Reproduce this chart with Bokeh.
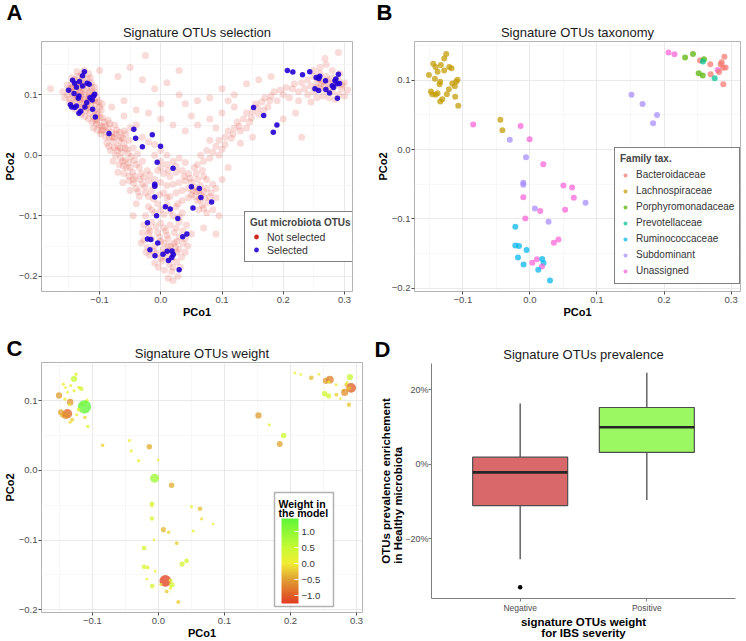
import numpy as np
from bokeh.plotting import figure
from bokeh.layouts import column, row
from bokeh.models import (FixedTicker, Range1d, Legend, LegendItem, ColumnDataSource, Label,
                          LinearColorMapper, ColorBar, FactorRange, Title, BoxAnnotation)
from bokeh.transform import dodge
from bokeh.embed import file_html
from bokeh.resources import INLINE

FONT = "Liberation Sans"

# ---------------- data ----------------
# background (not selected) gut microbiota OTUs
bg_topleft = [(-0.150,0.110),(-0.145,0.118),(-0.140,0.125),(-0.135,0.130),(-0.128,0.128),(-0.120,0.126),(-0.113,0.120),(-0.108,0.113),
    (-0.152,0.100),(-0.146,0.104),(-0.140,0.108),(-0.134,0.112),(-0.127,0.116),(-0.121,0.112),(-0.115,0.106),(-0.110,0.100),(-0.104,0.095),
    (-0.148,0.092),(-0.142,0.096),(-0.136,0.100),(-0.130,0.104),(-0.124,0.100),(-0.118,0.096),(-0.112,0.090),(-0.106,0.085),(-0.100,0.080),
    (-0.144,0.084),(-0.138,0.088),(-0.132,0.092),(-0.126,0.088),(-0.120,0.084),(-0.114,0.080),(-0.108,0.075),(-0.102,0.070),
    (-0.140,0.076),(-0.134,0.080),(-0.128,0.078),(-0.122,0.074),(-0.116,0.070),(-0.110,0.064),(-0.104,0.060),
    (-0.130,0.068),(-0.124,0.064),(-0.118,0.060),(-0.112,0.055),(-0.160,0.105),(-0.157,0.095),(-0.137,0.138),(-0.125,0.140),(-0.118,0.135),
    (-0.131,0.097),(-0.125,0.093),(-0.119,0.089),(-0.137,0.094),(-0.129,0.085),(-0.123,0.081),(-0.133,0.106),(-0.117,0.102),
    (-0.143,0.113),(-0.139,0.117),(-0.131,0.121),(-0.123,0.119),(-0.113,0.112),(-0.107,0.104),(-0.101,0.088),(-0.097,0.075),
    (-0.149,0.087),(-0.153,0.116),(-0.145,0.128),(-0.129,0.134),(-0.115,0.128),(-0.105,0.068),(-0.099,0.063),(-0.107,0.058),
    (-0.146,0.110),(-0.134,0.120),(-0.126,0.108),(-0.114,0.094),(-0.140,0.100),(-0.120,0.078),(-0.108,0.090),(-0.096,0.085)]
bg_leftarm = [(-0.110,0.045),(-0.100,0.050),(-0.092,0.055),(-0.085,0.045),(-0.098,0.035),(-0.090,0.030),(-0.080,0.038),(-0.072,0.042),(-0.065,0.030),
    (-0.088,0.020),(-0.078,0.022),(-0.070,0.015),(-0.060,0.020),(-0.052,0.025),(-0.082,0.008),(-0.074,0.000),(-0.064,0.005),(-0.055,0.010),(-0.045,0.012),
    (-0.078,-0.010),(-0.068,-0.015),(-0.058,-0.008),(-0.048,-0.002),(-0.038,0.002),(-0.070,-0.028),(-0.060,-0.030),(-0.050,-0.020),(-0.040,-0.015),(-0.030,-0.010),
    (-0.062,-0.045),(-0.052,-0.042),(-0.042,-0.035),(-0.032,-0.030),(-0.022,-0.025),(-0.050,-0.058),(-0.040,-0.055),(-0.030,-0.048),(-0.020,-0.042),
    (-0.035,-0.068),(-0.025,-0.062),(-0.015,-0.058),(-0.060,0.040),(-0.050,0.045),(-0.040,0.050),(-0.030,0.030),(-0.020,0.022),(-0.010,0.018),(0.000,0.008),(0.010,0.000),
    (-0.095,0.062),(-0.086,0.058),(-0.075,0.050),(-0.094,0.042),(-0.084,0.030),(-0.068,0.025),(-0.058,0.012),(-0.066,-0.004),(-0.056,-0.020),(-0.046,-0.028),
    (-0.104,0.042),(-0.096,0.047),(-0.088,0.038),(-0.076,0.030),(-0.071,0.007),(-0.061,-0.018),(-0.052,-0.034),(-0.044,-0.046),(-0.034,-0.040),(-0.026,-0.052),
    (-0.105,0.052),(-0.097,0.040),(-0.091,0.048),(-0.083,0.052),(-0.079,0.030),(-0.073,0.035),(-0.067,0.038),(-0.062,0.028),(-0.057,0.035),(-0.085,0.015),
    (-0.076,0.012),(-0.066,0.012),(-0.053,0.003),(-0.062,-0.010),(-0.052,-0.012),(-0.043,-0.008),(-0.035,-0.020),(-0.045,-0.040),(-0.037,-0.060),(-0.028,-0.036),
    (-0.018,-0.032),(-0.010,-0.050),(-0.020,-0.068),(-0.012,-0.072)]
bg_middle = [(-0.010,0.000),(0.000,-0.010),(0.010,-0.015),(0.020,-0.010),(0.030,-0.005),(0.040,-0.012),(-0.005,-0.025),(0.005,-0.030),(0.015,-0.035),(0.025,-0.028),(0.035,-0.025),(0.045,-0.030),(0.055,-0.020),
    (-0.010,-0.040),(0.000,-0.045),(0.010,-0.050),(0.020,-0.048),(0.030,-0.045),(0.040,-0.042),(0.050,-0.045),(0.060,-0.040),(0.070,-0.035),
    (0.005,-0.062),(0.015,-0.068),(0.025,-0.062),(0.035,-0.058),(0.045,-0.055),(0.055,-0.052),(0.065,-0.050),(0.075,-0.055),(0.085,-0.048),
    (0.050,-0.065),(0.058,-0.060),(0.066,-0.065),(0.072,-0.070),(0.060,-0.075),(0.068,-0.082),(0.078,-0.078),(0.085,-0.090),(0.075,-0.095),(0.090,-0.070),(0.095,-0.100),
    (0.062,-0.058),(0.070,-0.060),(0.056,-0.068),(0.064,-0.072),(0.052,-0.058),
    (0.000,-0.020),(0.012,-0.025),(0.025,-0.018),(0.038,-0.035),(0.048,-0.038),(0.058,-0.030),(0.068,-0.025),(0.075,-0.040),(0.082,-0.062),(0.090,-0.055),
    (0.070,-0.088),(0.062,-0.090),(0.080,-0.068),(0.045,-0.070),(0.035,-0.075),(0.028,-0.080),(0.010,-0.070),(-0.002,-0.065)]
bg_bottom = [(-0.020,-0.085),(-0.005,-0.080),(0.010,-0.082),(0.025,-0.085),(-0.025,-0.100),(-0.010,-0.095),(0.005,-0.098),(0.020,-0.100),(0.035,-0.095),
    (-0.028,-0.115),(-0.015,-0.110),(0.000,-0.112),(0.015,-0.115),(0.030,-0.110),(0.042,-0.115),(-0.030,-0.128),(-0.018,-0.125),(-0.005,-0.128),(0.008,-0.125),(0.022,-0.128),(0.036,-0.125),
    (-0.028,-0.140),(-0.015,-0.138),(0.000,-0.142),(0.012,-0.138),(0.026,-0.142),(0.040,-0.138),(-0.022,-0.152),(-0.010,-0.150),(0.004,-0.155),(0.016,-0.150),(0.030,-0.155),(0.044,-0.150),
    (-0.018,-0.165),(-0.006,-0.162),(0.008,-0.168),(0.020,-0.163),(0.034,-0.168),(-0.010,-0.178),(0.002,-0.175),(0.014,-0.180),(0.026,-0.176),(0.006,-0.190),(0.018,-0.192),(0.028,-0.200),(0.012,-0.203),(-0.032,-0.145),(0.050,-0.130),
    (0.005,-0.145),(0.015,-0.158),(0.022,-0.145),(0.010,-0.132),(-0.002,-0.135),(0.018,-0.170),(0.008,-0.160),
    (-0.012,-0.158),(0.024,-0.152),(0.012,-0.150),(0.000,-0.170),(0.020,-0.185),(0.030,-0.135),(-0.020,-0.130),(-0.008,-0.118),
    (-0.015,-0.090),(0.000,-0.090),(0.015,-0.092),(0.030,-0.102),(-0.020,-0.120),(0.005,-0.120),(0.025,-0.120),(0.036,-0.145),(-0.024,-0.160),(0.026,-0.160),
    (0.040,-0.160),(-0.004,-0.185),(0.032,-0.185),(0.020,-0.207)]
bg_rightarm = [(0.060,-0.015),(0.070,-0.010),(0.080,-0.005),(0.065,0.000),(0.075,0.008),(0.085,0.005),(0.090,0.015),(0.100,0.010),(0.095,0.025),(0.105,0.030),(0.115,0.028),(0.110,0.040),
    (0.120,0.045),(0.130,0.040),(0.125,0.055),(0.135,0.060),(0.145,0.055),(0.140,0.070),(0.150,0.072),(0.160,0.068),(0.155,0.085),(0.165,0.088),(0.175,0.080),(0.170,0.095),(0.180,0.098),(0.190,0.090),(0.185,0.105),(0.200,0.100),(0.210,0.095),(0.205,0.112),(0.215,0.110),(0.225,0.105),(0.080,0.025),(0.090,0.045),
    (0.095,0.000),(0.105,0.018),(0.118,0.035),(0.128,0.048),(0.140,0.045),(0.148,0.062),(0.158,0.078),(0.168,0.075),(0.178,0.090),(0.195,0.108),(0.218,0.118),(0.225,0.090)]
bg_topright = [(0.230,0.120),(0.240,0.125),(0.250,0.130),(0.260,0.135),(0.270,0.130),(0.280,0.128),(0.290,0.125),(0.300,0.120),
    (0.235,0.110),(0.245,0.115),(0.255,0.120),(0.265,0.122),(0.275,0.118),(0.285,0.115),(0.295,0.110),(0.305,0.108),
    (0.240,0.100),(0.250,0.105),(0.260,0.110),(0.270,0.108),(0.280,0.105),(0.290,0.100),(0.300,0.098),
    (0.255,0.095),(0.265,0.098),(0.275,0.095),(0.285,0.092),(0.260,0.145),(0.270,0.150),(0.250,0.140),(0.280,0.140),(0.292,0.135),(0.245,0.088),(0.268,0.160),
    (0.262,0.118),(0.272,0.124),(0.282,0.120),(0.258,0.126),(0.276,0.112),(0.266,0.114),(0.286,0.124),(0.254,0.112),(0.296,0.116)]
bg_sparse = [(-0.100,0.140),(-0.070,0.130),(-0.050,0.145),(-0.030,0.125),(-0.010,0.110),(0.010,0.120),(0.030,0.100),(0.040,0.085),(0.060,0.090),(0.080,0.095),(0.100,0.110),(0.120,0.100),(0.140,0.118),(0.160,0.125),(0.180,0.130),
    (-0.060,0.090),(-0.040,0.075),(-0.020,0.070),(0.000,0.060),(0.020,0.050),(0.040,0.040),(0.060,0.050),(0.080,0.060),(0.100,0.070),(0.120,0.080),(-0.080,0.080),(-0.060,0.065),(0.000,0.085),(0.050,0.065),(0.110,0.090),
    (0.130,0.020),(0.150,0.030),(0.100,-0.040),(0.110,-0.020),(0.200,0.060),(0.220,0.070),(-0.025,0.165),(0.030,0.140),(-0.180,0.110),(0.290,0.170),(0.230,0.030),(0.070,-0.120),(0.090,-0.130),(-0.045,-0.100),(-0.040,-0.080)]
background_otus = bg_topleft + bg_leftarm + bg_middle + bg_bottom + bg_rightarm + bg_topright + bg_sparse
bg_x = [p[0] for p in background_otus]
bg_y = [p[1] for p in background_otus]

# signature OTUs (selected)
sig_x = [-0.1247,-0.1277,-0.1440,-0.1327,-0.1406,-0.1202,-0.1168,-0.1505,-0.1376,-0.1277,
         -0.1416,-0.1336,-0.1346,-0.1157,-0.1079,-0.1098,-0.1119,-0.1208,-0.1475,-0.1455,
         -0.1376,-0.1406,-0.1238,-0.1113,-0.1306,-0.1336,-0.1068,-0.0440,-0.0410,
         -0.0845,-0.0300,-0.0138,-0.0004,-0.0058,0.0200,-0.0098,-0.0098,0.0500,0.0630,
         0.0655,0.0830,-0.0098,0.0075,0.0155,0.0526,-0.0068,0.0278,-0.0217,0.0358,
         0.0426,-0.0217,-0.0162,-0.0049,-0.0177,0.0105,0.0184,0.0036,0.0204,-0.0094,
         0.0180,0.0125,0.0300,
         0.1515,0.1680,0.1896,0.1837,
         0.2067,0.2156,0.2314,0.2432,0.2536,0.2596,0.2580,0.2690,0.2900,0.2859,
         0.2844,0.2918,0.2880,0.2800,0.2820,0.2695,0.2517,0.2577,0.2755,0.2884]
sig_y = [0.1381,0.1315,0.1238,0.1219,0.1190,0.1190,0.1172,0.1076,0.1123,0.1143,
         0.1023,0.0980,0.0943,0.0952,0.1009,0.0980,0.0914,0.0871,0.0837,0.0800,
         0.0814,0.0790,0.0800,0.0761,0.0727,0.0693,0.0632,0.0430,0.0280,
         0.0360,0.0140,0.0340,0.0150,-0.0113,-0.0213,-0.0480,-0.0510,-0.0520,-0.0550,
         -0.0696,-0.0770,-0.0690,-0.0850,-0.0887,-0.0870,-0.0997,-0.1044,-0.1116,-0.1345,
         -0.1300,-0.1384,-0.1393,-0.1450,-0.1560,-0.1585,-0.1580,-0.1636,-0.1640,-0.1660,
         -0.1690,-0.1737,-0.1890,
         0.0790,0.0656,0.0500,0.0380,
         0.1400,0.1377,0.1330,0.1381,0.1287,0.1305,0.1270,0.1230,0.1340,0.1260,
         0.1230,0.1186,0.1180,0.1150,0.1120,0.1086,0.1100,0.1070,0.1030,0.0943]
sig_family_code = ["L"] * 29 + [
         "U","S","U","U","S","U","S","S","U","U",
         "U","S","U","S","U","U","U","S","R","U",
         "U","R","R","R","R","U","R","U","R","R",
         "U","R","R",
         "S","S","S","S",
         "U","U","P","P","B","P","V","B","B","B",
         "B","B","B","U","B","B","P","P","V","B"]
sig_weight = [0.15,0.5,0.1,0.1,0.05,0.15,0.3,-0.5,0.05,0.1,
              0.1,-0.55,0.1,-0.1,0.05,0.1,1.4,0.2,-0.45,-0.35,
              -0.9,-0.6,0.1,-0.15,-0.2,-0.1,0.15,0.1,0.1,
              -0.15,0.1,-0.4,0.05,0.85,-0.4,0.3,0.1,0.1,-0.3,
              -0.1,0.05,0.25,-0.35,-0.15,0.1,0.05,-0.2,0.3,0.35,
              0.3,0.3,0.2,0.05,0.05,-1.2,0.2,-0.1,0.4,0.3,
              0.1,-0.2,-0.2,
              -0.5,0.1,0.4,-0.45,
              0.05,0.05,-0.3,0.05,-0.5,-0.7,0.1,0.1,0.5,0.1,
              -0.2,-0.95,-0.3,-0.1,-0.6,-0.2,0.4,0.35,0.05,-0.25]

families = ["Bacteroidaceae", "Lachnospiraceae", "Porphyromonadaceae", "Prevotellaceae",
            "Ruminococcaceae", "Subdominant", "Unassigned"]
family_codes = ["B", "L", "P", "V", "R", "S", "U"]
code_to_family = dict(zip(family_codes, families))
sig_family = [code_to_family[c] for c in sig_family_code]

pcoa_ticks_x = [-0.1, 0.0, 0.1, 0.2, 0.3]
pcoa_ticks_y = [-0.2, -0.1, 0.0, 0.1]
weight_ticks = [-1.0, -0.5, 0.0, 0.5, 1.0]

box_cats = ["Negative", "Positive"]
box_q1 = [-11.1, 3.2]
box_med = [-2.2, 9.9]
box_q3 = [1.9, 15.2]
box_lo = [-25.5, -9.6]
box_hi = [16.3, 24.5]
out_cat = ["Negative"]
out_val = [-33.0]
pct_ticks = [-20, 0, 20]

# ---------------- styling helpers ----------------
family_colors = ["#F8766D", "#C49A00", "#53B400", "#00C094", "#00B6EB", "#A58AFF", "#FB61D7"]
fam_color = dict(zip(families, family_colors))


def fmt(v):
    return ("%.1f" % v).replace("-", "\u2212")


def add_titles(p, text, letter, offset=0, letter_offset=-35, letter_standoff=-6):
    p.add_layout(Title(text=text, align="center", offset=offset, text_font=FONT,
                       text_font_size="13px", text_font_style="normal", text_color="#1a1a1a",
                       standoff=3), "above")
    p.add_layout(Title(text=letter, align="left", offset=letter_offset, text_font=FONT,
                       text_font_size="22px", text_font_style="bold", text_color="black",
                       standoff=letter_standoff), "above")


def style_axes(p):
    for ax in (p.xaxis[0], p.yaxis[0]):
        ax.axis_line_color = None
        ax.major_tick_line_color = "#4d4d4d"
        ax.major_tick_out = 3
        ax.major_tick_in = 0
        ax.minor_tick_line_color = None
        ax.major_label_text_font = FONT
        ax.major_label_text_font_size = "9.5px"
        ax.major_label_text_color = "#4d4d4d"
        ax.major_label_text_line_height = 1.0
        ax.major_label_standoff = 0
        ax.axis_label_text_font = FONT
        ax.axis_label_text_font_size = "11px"
        ax.axis_label_text_font_style = "bold"
        ax.axis_label_text_color = "#000000"
        ax.axis_label_text_line_height = 1.0
        ax.axis_label_standoff = 0


def pcoa_figure(title, letter, h, xr, yr, bl, br, bt, bb, offset=0, letter_offset=-35,
                letter_standoff=-6):
    p = figure(width=373, height=h, x_range=Range1d(*xr), y_range=Range1d(*yr), title=None,
               output_backend="svg", toolbar_location=None,
               min_border_left=bl, min_border_right=br, min_border_top=bt, min_border_bottom=bb)
    add_titles(p, title, letter, offset, letter_offset, letter_standoff)
    p.outline_line_color = "#b3b3b3"
    p.outline_line_width = 1
    xt = FixedTicker(ticks=pcoa_ticks_x, minor_ticks=[t - 0.05 for t in pcoa_ticks_x] + [0.35])
    yt = FixedTicker(ticks=pcoa_ticks_y, minor_ticks=[t - 0.05 for t in pcoa_ticks_y] + [0.15])
    p.xaxis.ticker = xt
    p.yaxis.ticker = yt
    p.xgrid.ticker = xt
    p.ygrid.ticker = yt
    p.xaxis.major_label_overrides = {v: fmt(v) for v in pcoa_ticks_x}
    p.yaxis.major_label_overrides = {v: fmt(v) for v in pcoa_ticks_y}
    p.xaxis.axis_label = "PCo1"
    p.yaxis.axis_label = "PCo2"
    for g in (p.xgrid[0], p.ygrid[0]):
        g.grid_line_color = "#e6e6e6"
        g.grid_line_width = 0.9
        g.minor_grid_line_color = "#f4f4f4"
        g.minor_grid_line_width = 0.7
    style_axes(p)
    p.xaxis.major_label_standoff = 1
    return p


# ---------------- Panel A ----------------
pA = pcoa_figure("Signature OTUs selection", "A", 320, (-0.1947, 0.313), (-0.225, 0.188),
                 37, 21, 40, 28, offset=6, letter_offset=-35)
pA.scatter(bg_x, bg_y, size=7, fill_color="#d9301f", fill_alpha=0.17, line_color=None)
rSel = pA.scatter(sig_x, sig_y, size=5.5, fill_color="#2200d4", fill_alpha=0.9, line_color=None)
rNS_leg = pA.scatter(bg_x, bg_y, size=5, fill_color="#cc2a1e", fill_alpha=1, line_color=None,
                     visible=False)
legA = Legend(items=[LegendItem(label="Not selected", renderers=[rNS_leg]),
                     LegendItem(label="Selected", renderers=[rSel])],
              location=(203, 29), title="Gut microbiota OTUs",
              title_text_font=FONT, title_text_font_size="10px", title_text_font_style="bold",
              title_standoff=2, label_text_font=FONT, label_text_font_size="10.5px",
              label_text_color="#333333", label_height=13, glyph_height=13, glyph_width=12,
              label_standoff=5, spacing=0, padding=5, margin=0,
              border_line_color="black", border_line_width=1.5, background_fill_alpha=1)
pA.add_layout(legA)

# ---------------- Panel B ----------------
pB = pcoa_figure("Signature OTUs taxonomy", "B", 320, (-0.172, 0.314), (-0.205, 0.156),
                 40, 6, 40, 28, letter_offset=-38)
srcB = ColumnDataSource(dict(x=sig_x, y=sig_y, fam=sig_family,
                             color=[fam_color[f] for f in sig_family]))
rB = pB.scatter("x", "y", source=srcB, size=6, fill_color="color", fill_alpha=0.72, line_color=None)
itemsB = [LegendItem(label=f, renderers=[rB], index=sig_family.index(f)) for f in families]
legB = Legend(items=itemsB, location=(200, 7), title="Family tax.",
              title_text_font=FONT, title_text_font_size="10px", title_text_font_style="bold",
              title_standoff=3, label_text_font=FONT, label_text_font_size="10px",
              label_text_color="#333333", label_height=15, glyph_height=12, glyph_width=10,
              label_standoff=6, spacing=1, padding=5, margin=0,
              border_line_color="black", border_line_width=1.5, background_fill_alpha=1)
pB.add_layout(legB)

# ---------------- Panel C ----------------
pC = pcoa_figure("Signature OTUs weight", "C", 321, (-0.177, 0.309), (-0.204, 0.155),
                 37, 11, 42, 28, letter_offset=-35, letter_standoff=-37)
anchors_v = [-1.25, -0.5, 0.0, 0.5, 1.41]
anchors_c = [(224, 60, 34), (224, 160, 52), (242, 238, 52), (200, 250, 52), (96, 246, 56)]
vals = np.linspace(-1.25, 1.41, 256)
weight_palette = []
for v in vals:
    r = int(round(np.interp(v, anchors_v, [c[0] for c in anchors_c])))
    g = int(round(np.interp(v, anchors_v, [c[1] for c in anchors_c])))
    b = int(round(np.interp(v, anchors_v, [c[2] for c in anchors_c])))
    weight_palette.append("#%02x%02x%02x" % (r, g, b))
wmap = LinearColorMapper(palette=weight_palette, low=-1.25, high=1.41)
srcC = ColumnDataSource(dict(x=sig_x, y=sig_y, w=sig_weight,
                             s=[2 * (1.2 + 3.9 * abs(w)) for w in sig_weight]))
pC.scatter("x", "y", source=srcC, size="s", fill_color={"field": "w", "transform": wmap},
           fill_alpha=0.78, line_color=None)
pC.add_layout(BoxAnnotation(left=233, right=292, bottom=6, top=120,
                            left_units="screen", right_units="screen",
                            bottom_units="screen", top_units="screen",
                            fill_color="white", fill_alpha=1, line_color="black", line_width=1.5))
for txt, yy in (("Weight in", 109), ("the model", 99.5)):
    pC.add_layout(Label(x=237, y=yy, x_units="screen", y_units="screen", text=txt,
                        text_font=FONT, text_font_size="10.5px", text_font_style="bold",
                        text_color="black", text_baseline="alphabetic"))
cb = ColorBar(color_mapper=wmap, orientation="vertical", location=(240, 9),
              width=17, height=85, padding=0, margin=0,
              ticker=FixedTicker(ticks=weight_ticks),
              major_label_overrides={v: fmt(v) for v in weight_ticks},
              major_label_text_font=FONT, major_label_text_font_size="9.5px",
              major_label_text_color="#333333", label_standoff=3,
              major_tick_line_color="white", major_tick_in=4, major_tick_out=0,
              minor_tick_line_color=None, bar_line_color=None,
              border_line_color=None, background_fill_alpha=0)
pC.add_layout(cb)

# ---------------- Panel D ----------------
pD = figure(width=373, height=321, title=None,
            x_range=FactorRange(factors=box_cats, range_padding=0.2, range_padding_units="absolute"),
            y_range=Range1d(-36, 27), output_backend="svg", toolbar_location=None,
            min_border_left=58, min_border_right=11, min_border_top=43, min_border_bottom=41)
add_titles(pD, "Signature OTUs prevalence", "D", 0, -57, -37)
pD.outline_line_color = None
pD.grid.visible = False
style_axes(pD)
for ax in (pD.xaxis[0], pD.yaxis[0]):
    ax.axis_line_color = "#7f7f7f"
    ax.major_tick_line_color = "#7f7f7f"
pD.xaxis.major_label_text_font_size = "8.5px"
pD.yaxis.major_label_text_font_size = "9px"
pD.xaxis.major_label_standoff = 1
pD.xaxis.axis_label_standoff = 0
pD.xaxis.axis_label_text_font_size = "11.5px"
pD.xaxis.axis_label_text_line_height = 0.95
pD.yaxis.ticker = FixedTicker(ticks=pct_ticks)
pD.yaxis.major_label_overrides = {v: ("%d%%" % v).replace("-", "\u2212") for v in pct_ticks}
pD.xaxis.axis_label = "signature OTUs weight\nfor IBS severity"
pD.add_layout(Title(text="OTUs prevalence enrichement\nin Healthy microbiota", align="center",
                    offset=-4, text_font=FONT, text_font_size="11.5px", text_font_style="bold",
                    text_color="black", text_line_height=1.0, standoff=-2), "left")
srcD = ColumnDataSource(dict(cat=box_cats, q1=box_q1, med=box_med, q3=box_q3, lo=box_lo, hi=box_hi,
                             color=["#d8686a", "#9cf862"]))
pD.segment(x0="cat", y0="q3", x1="cat", y1="hi", source=srcD, line_color="#4d4d4d", line_width=1.3)
pD.segment(x0="cat", y0="q1", x1="cat", y1="lo", source=srcD, line_color="#4d4d4d", line_width=1.3)
pD.vbar(x="cat", top="q3", bottom="q1", width=0.75, source=srcD, fill_color="color",
        line_color="#4d4d4d", line_width=1.2)
pD.segment(x0=dodge("cat", -0.375, range=pD.x_range), y0="med",
           x1=dodge("cat", 0.375, range=pD.x_range), y1="med",
           source=srcD, line_color="#262626", line_width=2.6)
pD.scatter(out_cat, out_val, size=4.5, fill_color="black", line_color=None)

layout = column(row(column(pA), column(pB), spacing=0),
                row(column(pC), column(pD), spacing=0), spacing=0)
open("out.html", "w").write(file_html(layout, INLINE))
